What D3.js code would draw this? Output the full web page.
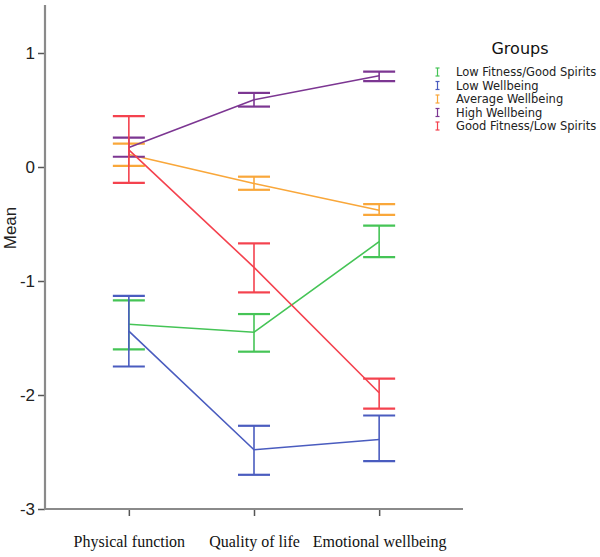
<!DOCTYPE html>
<html><head><meta charset="utf-8">
<script src="https://cdn.jsdelivr.net/npm/d3@7"></script>
<style>html,body{margin:0;padding:0;background:#fff;}svg{display:block;}</style>
</head><body>
<script>
const categories = ["Physical function", "Quality of life", "Emotional wellbeing"];
const groupNames = ["Low Fitness/Good Spirits", "Low Wellbeing", "Average Wellbeing", "High Wellbeing", "Good Fitness/Low Spirits"];
const groupColors = ["#45c456", "#4a5cbf", "#f9a73a", "#7c3692", "#f4424e"];
const meanLowFitGood   = [-1.38, -1.45, -0.655];
const lowerLowFitGood  = [-1.60, -1.62, -0.79];
const upperLowFitGood  = [-1.17, -1.29, -0.515];
const meanLowWell      = [-1.44, -2.48, -2.39];
const lowerLowWell     = [-1.75, -2.70, -2.58];
const upperLowWell     = [-1.13, -2.27, -2.18];
const meanAvgWell      = [0.11, -0.145, -0.38];
const lowerAvgWell     = [0.01, -0.20, -0.42];
const upperAvgWell     = [0.205, -0.085, -0.325];
const meanHighWell     = [0.17, 0.59, 0.80];
const lowerHighWell    = [0.09, 0.53, 0.754];
const upperHighWell    = [0.257, 0.65, 0.836];
const meanGoodFitLow   = [0.15, -0.88, -1.98];
const lowerGoodFitLow  = [-0.14, -1.10, -2.12];
const upperGoodFitLow  = [0.447, -0.67, -1.857];
const yTicks = [-3, -2, -1, 0, 1];
const legendTitle = "Groups";
const yLabel = "Mean";

const series = [
  {mean: meanLowFitGood, lo: lowerLowFitGood, hi: upperLowFitGood},
  {mean: meanLowWell, lo: lowerLowWell, hi: upperLowWell},
  {mean: meanAvgWell, lo: lowerAvgWell, hi: upperAvgWell},
  {mean: meanHighWell, lo: lowerHighWell, hi: upperHighWell},
  {mean: meanGoodFitLow, lo: lowerGoodFitLow, hi: upperGoodFitLow}
].map((s, i) => ({...s, name: groupNames[i], color: groupColors[i]}));

const W = 600, H = 557;
const svg = d3.select("body").append("svg").attr("width", W).attr("height", H);

const axisLeft = 45, axisRight = 463, axisTop = 5, axisBottom = 509;
const x = d3.scalePoint().domain(categories).range([axisLeft, axisRight]).padding(0.67);
const y = d3.scaleLinear().domain([-3, 1]).range([509, 53]);

const axisColor = "#8a8a8a";
// y axis
const gy = svg.append("g").attr("transform", `translate(${axisLeft},0)`)
  .call(d3.axisLeft(y).tickValues(yTicks).tickSize(7).tickPadding(3).tickFormat(d => String(d)));
gy.select(".domain").remove();
gy.selectAll(".tick line").attr("stroke", "#555").attr("stroke-width", 1.5);
gy.selectAll(".tick text").attr("font-family", "Liberation Sans, Arial, sans-serif").attr("font-size", 17).attr("fill", "#222");
svg.append("line").attr("x1", axisLeft).attr("x2", axisLeft).attr("y1", axisTop).attr("y2", axisBottom)
  .attr("stroke", axisColor).attr("stroke-width", 2.2);

// x axis
const gx = svg.append("g").attr("transform", `translate(0,${axisBottom})`)
  .call(d3.axisBottom(x).tickSize(7).tickPadding(20));
gx.select(".domain").remove();
gx.selectAll(".tick line").attr("stroke", "#555").attr("stroke-width", 1.5);
gx.selectAll(".tick text").attr("font-family", "Liberation Serif, Times New Roman, serif").attr("font-size", 16).attr("fill", "#111")
  .attr("dy", "0.71em");
svg.append("line").attr("x1", axisLeft - 1).attr("x2", axisRight).attr("y1", axisBottom).attr("y2", axisBottom)
  .attr("stroke", axisColor).attr("stroke-width", 2.2);

svg.append("text").attr("transform", `translate(16,228) rotate(-90)`).attr("text-anchor", "middle")
  .attr("font-family", "Liberation Sans, Arial, sans-serif").attr("font-size", 17).attr("fill", "#222").text(yLabel);

const capHalf = 16;
const line = d3.line().x((d, i) => x(categories[i])).y(d => y(d));
series.forEach(s => {
  const g = svg.append("g");
  g.append("path").attr("d", line(s.mean)).attr("fill", "none").attr("stroke", s.color).attr("stroke-width", 1.6);
  categories.forEach((c, i) => {
    const cx = x(c);
    g.append("line").attr("x1", cx).attr("x2", cx).attr("y1", y(s.lo[i])).attr("y2", y(s.hi[i]))
      .attr("stroke", s.color).attr("stroke-width", 1.6);
    [s.lo[i], s.hi[i]].forEach(v => {
      g.append("line").attr("x1", cx - capHalf).attr("x2", cx + capHalf).attr("y1", y(v)).attr("y2", y(v))
        .attr("stroke", s.color).attr("stroke-width", 2.2);
    });
  });
});

// legend
svg.append("text").attr("x", 520).attr("y", 54).attr("text-anchor", "middle")
  .attr("font-family", "DejaVu Sans, sans-serif").attr("font-size", 16).attr("fill", "#111").text(legendTitle);
series.forEach((s, i) => {
  const cy = 72 + i * 13.5;
  const g = svg.append("g");
  g.append("line").attr("x1", 437.5).attr("x2", 437.5).attr("y1", cy - 4).attr("y2", cy + 4).attr("stroke", s.color).attr("stroke-width", 1.2);
  [cy - 4, cy + 4].forEach(v => g.append("line").attr("x1", 435.5).attr("x2", 439.5).attr("y1", v).attr("y2", v).attr("stroke", s.color).attr("stroke-width", 1.2));
  g.append("text").attr("x", 456).attr("y", cy + 4).attr("font-family", "DejaVu Sans, sans-serif").attr("font-size", 11.5)
    .attr("fill", "#222").text(s.name);
});
</script>
</body></html>
